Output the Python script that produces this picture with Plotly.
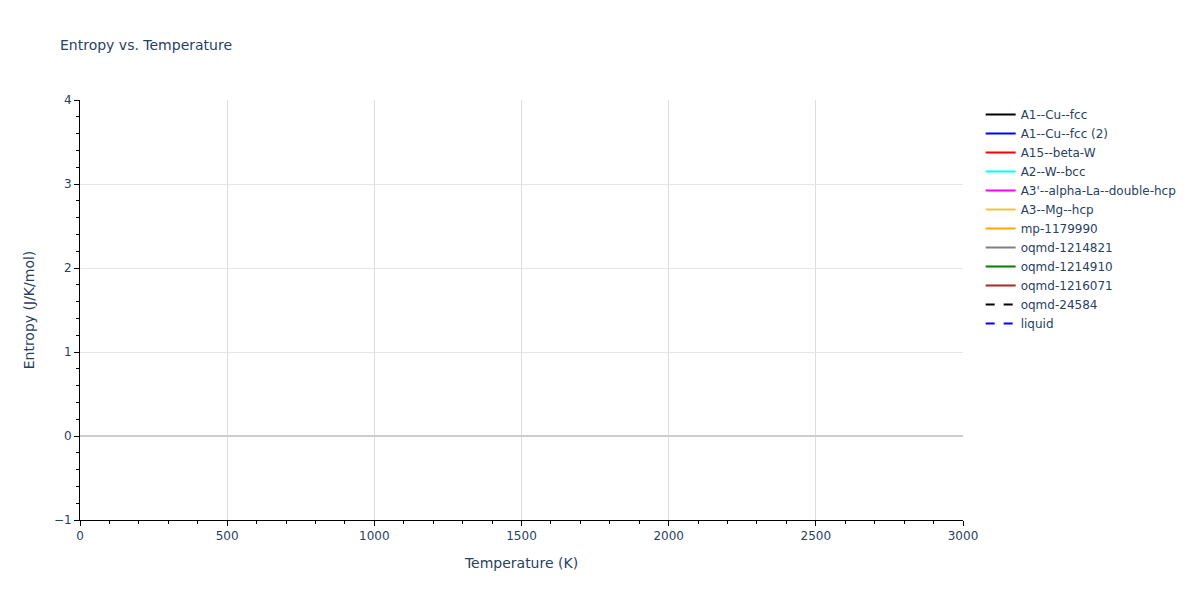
import plotly.graph_objects as go

# phases shown in the legend; the reference draws no entropy points for any of them
phases = ["A1--Cu--fcc", "A1--Cu--fcc (2)", "A15--beta-W", "A2--W--bcc",
          "A3'--alpha-La--double-hcp", "A3--Mg--hcp", "mp-1179990",
          "oqmd-1214821", "oqmd-1214910", "oqmd-1216071", "oqmd-24584", "liquid"]
colors = ["black", "blue", "red", "cyan", "magenta", "#f0c43c", "orange",
          "gray", "green", "brown", "black", "blue"]
dashes = ["solid"] * 10 + ["dash", "dash"]

temperature = {p: [None] for p in phases}
entropy = {p: [None] for p in phases}

x_range = [0, 3000]

fig = go.Figure()
for name, c, d in zip(phases, colors, dashes):
    fig.add_trace(go.Scatter(x=temperature[name], y=entropy[name], mode="lines",
                             name=name, line=dict(color=c, dash=d)))

fig.update_layout(
    title=dict(text="Entropy vs. Temperature", font=dict(size=14)),
    font=dict(family="DejaVu Sans, Verdana, sans-serif"),
    width=1200, height=600,
    margin=dict(l=80, r=237, t=100, b=80),
    plot_bgcolor="white",
    paper_bgcolor="white",
    showlegend=True,
)
fig.update_xaxes(title_text="Temperature (K)", range=x_range,
                 showline=True, linecolor="black", ticks="outside", tickcolor="black",
                 showgrid=True, gridcolor="#dedede", zeroline=False,
                 minor=dict(ticks="outside", dtick=100, tickcolor="black", showgrid=False))
fig.update_yaxes(title_text="Entropy (J/K/mol)",
                 showline=True, linecolor="black", ticks="outside", tickcolor="black",
                 showgrid=True, gridcolor="#e6e6e6", zeroline=True, zerolinecolor="#cccccc",
                 zerolinewidth=2,
                 minor=dict(ticks="outside", dtick=0.2, tickcolor="black", showgrid=False))

# the page is 1200x600 exactly, so drop the browser's default body margin
fig.write_html("out.html", config={"displayModeBar": False},
               post_script="document.body.style.margin='0';")
